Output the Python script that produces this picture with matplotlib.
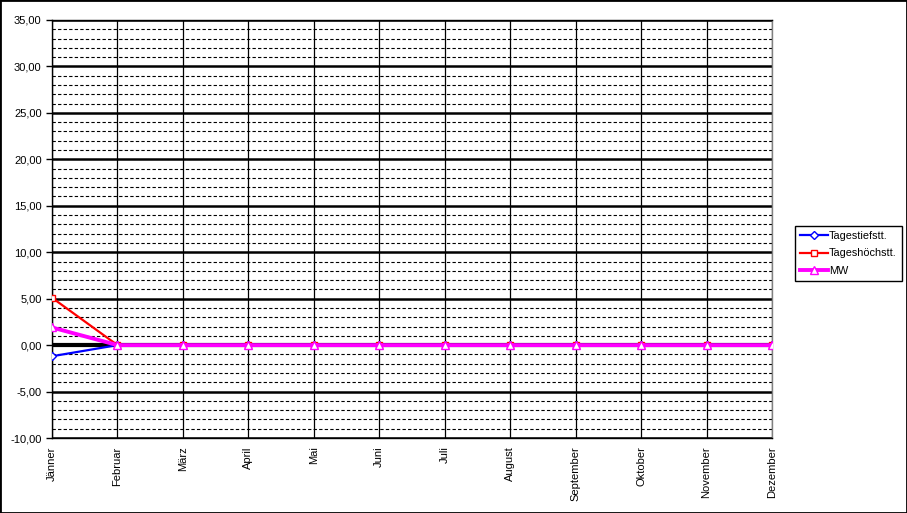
import matplotlib
matplotlib.use('Agg')
import matplotlib.pyplot as plt
from matplotlib.ticker import FuncFormatter, MultipleLocator
from matplotlib.patches import Rectangle

plt.rcParams['font.family'] = ['Liberation Sans', 'DejaVu Sans']

months = ['Jänner', 'Februar', 'März', 'April', 'Mai', 'Juni', 'Juli',
          'August', 'September', 'Oktober', 'November', 'Dezember']
tiefst = [-1.2, 0, 0, 0, 0, 0, 0, 0, 0, 0, 0, 0]
hoechst = [5.1, 0, 0, 0, 0, 0, 0, 0, 0, 0, 0, 0]
mw = [1.9, 0, 0, 0, 0, 0, 0, 0, 0, 0, 0, 0]

fig = plt.figure(figsize=(9.07, 5.13), dpi=100)
fig.patches.append(Rectangle((0, 0), 1, 1, transform=fig.transFigure,
                             fill=False, edgecolor='black', linewidth=2))
ax = fig.add_axes([52/907, 1-438/513, 720/907, 418/513])

x = list(range(len(months)))
ax.set_xlim(0, len(months) - 1)
ax.set_ylim(-10, 35)

# grid: dashed minor, solid thick major, thin vertical
ax.yaxis.set_major_locator(MultipleLocator(5))
ax.yaxis.set_minor_locator(MultipleLocator(1))
ax.grid(which='minor', axis='y', color='black', linestyle=(0, (3, 2)), linewidth=0.8)
ax.grid(which='major', axis='y', color='black', linestyle='-', linewidth=1.8)
ax.grid(which='major', axis='x', color='black', linestyle='-', linewidth=0.9)
ax.set_axisbelow(True)
ax.axhline(0, color='black', linewidth=3, zorder=1.5)

ax.plot(x, tiefst, color='#0000ff', linewidth=1.6, marker='D', markersize=4,
        markerfacecolor='white', markeredgecolor='#0000ff', label='Tagestiefstt.', zorder=3)
ax.plot(x, hoechst, color='#ff0000', linewidth=1.6, marker='s', markersize=5,
        markerfacecolor='white', markeredgecolor='#ff0000', label='Tageshöchstt.', zorder=3)
ax.plot(x, mw, color='#ff00ff', linewidth=2.8, marker='^', markersize=6,
        markerfacecolor='white', markeredgecolor='#ff00ff', label='MW', zorder=4)

ax.set_xticks(x)
ax.set_xticklabels(months, rotation=90, fontsize=8)
ax.yaxis.set_major_formatter(FuncFormatter(lambda v, p: ('%.2f' % v).replace('.', ',')))
ax.tick_params(axis='y', which='major', labelsize=8, length=4, width=1)
ax.tick_params(axis='y', which='minor', length=0)
ax.tick_params(axis='x', length=0, pad=6)

for side in ['left', 'bottom']:
    ax.spines[side].set_color('black')
    ax.spines[side].set_linewidth(1)
ax.spines['top'].set_color('black')
ax.spines['top'].set_linewidth(1)
ax.spines['right'].set_color('#808080')
ax.spines['right'].set_linewidth(1)

leg = fig.legend(loc='upper left', bbox_to_anchor=(795/907, 1-226/513), fontsize=7.8,
                 frameon=True, fancybox=False, edgecolor='black', framealpha=1,
                 handlelength=2.6, borderpad=0.45, labelspacing=0.7, handletextpad=0.1,
                 borderaxespad=0)
leg.get_frame().set_linewidth(1)

fig.savefig('out.png', dpi=100)
